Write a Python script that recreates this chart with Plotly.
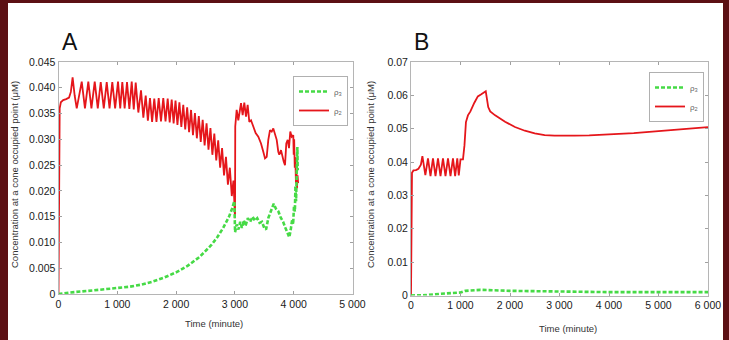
import plotly.graph_objects as go

W, H = 729, 340

# ---------------- Panel A data ----------------
A_red_t = [0, 8, 20, 40, 80, 130, 180, 210, 240, 275, 310,
           395, 450, 507, 560, 616, 668, 718, 770, 820, 868, 915, 963, 1012, 1050,
           1085, 1125, 1165, 1205, 1245, 1280, 1313, 1358, 1403, 1443, 1483, 1520,
           1556, 1592, 1629, 1666, 1704, 1743, 1782, 1820, 1857, 1891, 1925, 1958,
           1990, 2023, 2056, 2089, 2122, 2155, 2188, 2221, 2254, 2287, 2320, 2353,
           2386, 2419, 2452, 2485, 2518, 2551, 2584, 2617, 2650, 2683, 2716, 2749,
           2782, 2815, 2848, 2881, 2914, 2947, 2975, 3000,
           3002, 3006, 3030, 3058, 3104, 3132, 3160, 3189, 3217, 3245, 3274, 3313,
           3353, 3398, 3444, 3483, 3512, 3541, 3568, 3597, 3626, 3653, 3682, 3711,
           3738, 3755, 3784, 3806, 3830, 3852, 3874, 3898, 3920, 3942, 3966, 3993,
           4000, 4008, 4018, 4028, 4038, 4048, 4056, 4066, 4075]
A_red_v = [0.0, 0.028, 0.0360, 0.0372, 0.0376, 0.0378, 0.0381, 0.0392, 0.0420, 0.0385, 0.0360,
           0.0412, 0.0360, 0.0412, 0.0360, 0.0412, 0.0360, 0.0411, 0.0360, 0.0411, 0.0360, 0.0411, 0.0360, 0.0412, 0.0360,
           0.0411, 0.0360, 0.0411, 0.0359, 0.0412, 0.0358, 0.0410, 0.0352, 0.0395, 0.0342, 0.0385, 0.0336,
           0.0380, 0.0334, 0.0379, 0.0334, 0.0380, 0.0335, 0.0380, 0.0335, 0.0379, 0.0333, 0.0377, 0.0331,
           0.0375, 0.0328, 0.0372, 0.0324, 0.0367, 0.0319, 0.0362, 0.0314, 0.0357, 0.0308, 0.0351, 0.0302,
           0.0345, 0.0295, 0.0338, 0.0288, 0.0331, 0.0280, 0.0322, 0.0270, 0.0311, 0.0259, 0.0298, 0.0245,
           0.0283, 0.0230, 0.0266, 0.0212, 0.0245, 0.0190, 0.0220, 0.0147,
           0.0147, 0.0325, 0.0357, 0.0337, 0.0370, 0.0347, 0.0371, 0.0344, 0.0367, 0.0334, 0.0337, 0.0325,
           0.0312, 0.0305, 0.0292, 0.0276, 0.0263, 0.0266, 0.0299, 0.0318, 0.0315, 0.0321, 0.0312, 0.0299,
           0.0276, 0.0270, 0.0279, 0.0266, 0.0257, 0.0250, 0.0292, 0.0299, 0.0283, 0.0315, 0.0305, 0.0308,
           0.0270, 0.0300, 0.0245, 0.0265, 0.0215, 0.0240, 0.0205, 0.0230, 0.0215]

A_green_t = [0, 200, 500, 800, 1000, 1200, 1400, 1600, 1800, 2000, 2200, 2400, 2600,
             2700, 2800, 2900, 2950, 2990,
             3003, 3030, 3060, 3090, 3120, 3150, 3180, 3220, 3260, 3300, 3340, 3380,
             3420, 3460, 3500, 3530, 3570, 3610, 3660, 3700, 3740, 3780, 3820, 3860,
             3900, 3925, 3950, 3975, 3990, 4005, 4020, 4030, 4040, 4048, 4055, 4062, 4068]
A_green_v = [0.0, 0.0003, 0.0006, 0.0009, 0.0011, 0.0014, 0.0018, 0.0024, 0.0032, 0.0042, 0.0055, 0.0072, 0.0095,
             0.0110, 0.0128, 0.0150, 0.0165, 0.0180,
             0.0120, 0.0135, 0.0125, 0.0140, 0.0128, 0.0143, 0.0132, 0.0147, 0.0140, 0.0150, 0.0142, 0.0147,
             0.0138, 0.0140, 0.0128, 0.0125, 0.0148, 0.0160, 0.0175, 0.0165, 0.0160, 0.0148, 0.0140, 0.0128,
             0.0115, 0.0110, 0.0125, 0.0145, 0.0135, 0.0170, 0.0160, 0.0210, 0.0180, 0.0250, 0.0210, 0.0285, 0.0240]

# ---------------- Panel B data ----------------
B_red_t = [0, 5, 20, 50, 100, 150, 200, 230, 290, 343, 394, 444, 495, 545, 596, 646, 697,
           747, 798, 848, 892, 935, 965, 1000, 1050, 1080, 1110, 1150, 1200, 1280, 1350,
           1420, 1490, 1510, 1560, 1600, 1700, 1900, 2100, 2300, 2500, 2700, 2900, 3100,
           3300, 3600, 4000, 4500, 5000, 5500, 6000]
B_red_v = [0.0, 0.030, 0.0368, 0.0375, 0.0376, 0.0380, 0.0392, 0.0418, 0.0361, 0.0411, 0.0358,
           0.0411, 0.0358, 0.0411, 0.0358, 0.0411, 0.0358, 0.0411, 0.0358, 0.0411, 0.0358, 0.0411,
           0.0360, 0.0408, 0.0408, 0.0450, 0.0520, 0.0540, 0.0552, 0.0578, 0.0597, 0.0603, 0.0609,
           0.0612, 0.0565, 0.0552, 0.0540, 0.0521, 0.0505, 0.0494, 0.0486, 0.0481, 0.0479, 0.0478,
           0.0479, 0.0480, 0.0483, 0.0487, 0.0493, 0.0499, 0.0505]

B_green_t = [0, 300, 600, 1000, 1100, 1400, 2000, 3000, 4000, 5000, 6000]
B_green_v = [0.0, 0.0001, 0.0005, 0.0009, 0.0014, 0.0017, 0.0014, 0.0011, 0.0010, 0.0010, 0.0010]

# ---------------- Tick labels ----------------
A_xticks = [0, 1000, 2000, 3000, 4000, 5000]
A_xlabels = ["0", "1 000", "2 000", "3 000", "4 000", "5 000"]
A_yticks = [0, 0.005, 0.010, 0.015, 0.020, 0.025, 0.030, 0.035, 0.040, 0.045]
A_ylabels = ["0", "0.005", "0.010", "0.015", "0.020", "0.025", "0.030", "0.035", "0.040", "0.045"]
B_xticks = [0, 1000, 2000, 3000, 4000, 5000, 6000]
B_xlabels = ["0", "1 000", "2 000", "3 000", "4 000", "5 000", "6 000"]
B_yticks = [0, 0.01, 0.02, 0.03, 0.04, 0.05, 0.06, 0.07]
B_ylabels = ["0", "0.01", "0.02", "0.03", "0.04", "0.05", "0.06", "0.07"]

RED = "#e5161b"
GREEN = "#46da46"
BORDER = "#5c1014"
FONT = "Liberation Sans, Arial, sans-serif"

fig = go.Figure()

# Panel A
fig.add_trace(go.Scatter(x=A_red_t, y=A_red_v, mode="lines", name="ρ<sub>2</sub>",
                         line=dict(color=RED, width=1.8), xaxis="x", yaxis="y", legend="legend"))
fig.add_trace(go.Scatter(x=A_green_t, y=A_green_v, mode="lines", name="ρ<sub>3</sub>",
                         line=dict(color=GREEN, width=2.6, dash="4px,2px"), xaxis="x", yaxis="y",
                         legend="legend"))
# Panel B
fig.add_trace(go.Scatter(x=B_red_t, y=B_red_v, mode="lines", name="ρ<sub>2</sub>",
                         line=dict(color=RED, width=1.8), xaxis="x2", yaxis="y2", legend="legend2"))
fig.add_trace(go.Scatter(x=B_green_t, y=B_green_v, mode="lines", name="ρ<sub>3</sub>",
                         line=dict(color=GREEN, width=2.6, dash="4px,2px"), xaxis="x2", yaxis="y2",
                         legend="legend2"))

def px_x(p):
    return p / W

def px_y(p):
    return 1 - p / H

axis_common = dict(showline=True, linecolor="#b5b5b5", linewidth=1, mirror="ticks",
                   ticks="inside", ticklen=3, tickcolor="#a0a0a0", showgrid=False,
                   zeroline=False, automargin=False,
                   tickfont=dict(size=10.5, color="#1a1a1a", family=FONT))

fig.update_layout(
    width=W, height=H,
    margin=dict(l=0, r=0, t=0, b=0, pad=0, autoexpand=False),
    paper_bgcolor="white",
    plot_bgcolor="white",
    font=dict(family=FONT),
    xaxis=dict(domain=[px_x(58.5), px_x(352.5)], range=[0, 5000], anchor="y",
               tickvals=A_xticks, ticktext=A_xlabels, **axis_common),
    yaxis=dict(domain=[px_y(294), px_y(62)], range=[0, 0.045], anchor="x",
               tickvals=A_yticks, ticktext=A_ylabels, **axis_common),
    xaxis2=dict(domain=[px_x(411), px_x(708)], range=[0, 6000], anchor="y2",
                tickvals=B_xticks, ticktext=B_xlabels, **axis_common),
    yaxis2=dict(domain=[px_y(295.5), px_y(62)], range=[0, 0.07], anchor="x2",
                tickvals=B_yticks, ticktext=B_ylabels, **axis_common),
    legend=dict(x=px_x(348), y=px_y(76), xanchor="right", yanchor="top",
                bgcolor="white", bordercolor="#b0b0b0", borderwidth=1,
                font=dict(size=8, color="#666", family=FONT), itemwidth=30,
                traceorder="reversed", tracegroupgap=0),
    legend2=dict(x=px_x(704), y=px_y(72), xanchor="right", yanchor="top",
                 bgcolor="white", bordercolor="#b0b0b0", borderwidth=1,
                 font=dict(size=8, color="#666", family=FONT), itemwidth=30,
                 traceorder="reversed", tracegroupgap=0),
    showlegend=True,
)

# dark frame on the left, top and right edges of the page
for x0, x1, y0, y1 in [(-0.1, px_x(8), -0.1, 1.1),
                       (-0.1, 1.1, px_y(3), 1.1),
                       (px_x(723), 1.1, -0.1, 1.1)]:
    fig.add_shape(type="rect", xref="paper", yref="paper", x0=x0, x1=x1, y0=y0, y1=y1,
                  fillcolor=BORDER, line=dict(width=0), layer="below")

title_font = dict(size=9.5, color="#333", family=FONT)
ann = [
    dict(text="A", x=px_x(70), y=px_y(42), font=dict(size=23, color="#111", family=FONT)),
    dict(text="B", x=px_x(422), y=px_y(42), font=dict(size=23, color="#111", family=FONT)),
    dict(text="Concentration at a cone occupied point (μM)", x=px_x(15), y=px_y(175),
         textangle=-90, font=title_font),
    dict(text="Concentration at a cone occupied point (μM)", x=px_x(371), y=px_y(175),
         textangle=-90, font=title_font),
    dict(text="Time (minute)", x=px_x(214), y=px_y(323), font=title_font),
    dict(text="Time (minute)", x=px_x(568), y=px_y(328), font=title_font),
]
for a in ann:
    fig.add_annotation(xref="paper", yref="paper", showarrow=False,
                       xanchor="center", yanchor="middle", **a)

fig.write_html(
    "out.html", config={"displayModeBar": False},
    post_script=("document.body.style.margin='0';document.body.style.overflow='hidden';"
                 "document.body.style.background='white';"
                 "document.documentElement.style.background='white';"))
